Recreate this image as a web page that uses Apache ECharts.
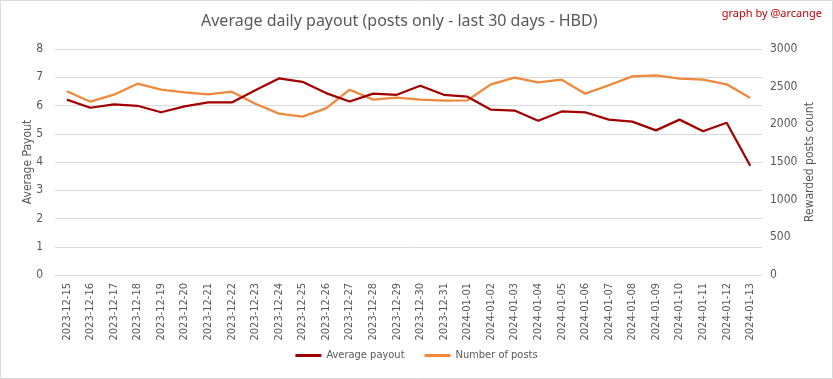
<!DOCTYPE html>
<html><head><meta charset="utf-8">
<script src="https://cdn.jsdelivr.net/npm/echarts@6/dist/echarts.min.js"></script>
<style>html,body{margin:0;padding:0;background:#fff}#c{width:833px;height:379px}</style>
</head><body><div id="c"></div>
<script>
const categories = ["2023-12-15","2023-12-16","2023-12-17","2023-12-18","2023-12-19","2023-12-20","2023-12-21","2023-12-22","2023-12-23","2023-12-24","2023-12-25","2023-12-26","2023-12-27","2023-12-28","2023-12-29","2023-12-30","2023-12-31","2024-01-01","2024-01-02","2024-01-03","2024-01-04","2024-01-05","2024-01-06","2024-01-07","2024-01-08","2024-01-09","2024-01-10","2024-01-11","2024-01-12","2024-01-13"];
const averagePayout = [6.21,5.92,6.04,5.99,5.76,5.97,6.11,6.11,6.54,6.96,6.84,6.44,6.14,6.42,6.38,6.70,6.38,6.31,5.85,5.82,5.46,5.79,5.76,5.50,5.43,5.12,5.50,5.09,5.39,3.87];
const numberOfPosts = [2438,2301,2394,2540,2460,2425,2398,2434,2274,2142,2102,2212,2460,2328,2354,2328,2314,2319,2531,2620,2558,2593,2407,2518,2637,2651,2606,2593,2531,2350];
const leftTicks = {min:0, max:8, interval:1};
const rightTicks = {min:0, max:3000, interval:500};

const chart = echarts.init(document.getElementById('c'));
const txt = '#595959';
const narrow = '"DejaVu Sans Condensed", "Noto Sans", sans-serif';
chart.setOption({
  animation:false,
  textStyle:{fontFamily:narrow},
  title:{text:'Average daily payout (posts only - last 30 days - HBD)', left:196, top:8,
    textStyle:{fontFamily:'Noto Sans', fontSize:16, fontWeight:'normal', color:txt}},
  graphic:[
    {type:'rect', shape:{x:0.5,y:0.5,width:832,height:378}, style:{fill:'none', stroke:'#d9d9d9', lineWidth:1}, silent:true},
    {type:'text', right:11, top:8, style:{text:'graph by @arcange', fill:'#c00000', font:'11px "Noto Sans"'}}
  ],
  legend:{bottom:13, left:'center', itemWidth:26, itemHeight:3, itemGap:20, icon:'rect',
    textStyle:{color:txt, fontSize:11, fontFamily:narrow},
    data:['Average payout','Number of posts']},
  grid:{left:55, right:71, top:49, bottom:104},
  xAxis:{type:'category', data:categories, boundaryGap:true,
    axisLine:{lineStyle:{color:'#d9d9d9'}}, axisTick:{show:false},
    axisLabel:{rotate:90, color:txt, fontSize:11, interval:0, margin:8, fontFamily:narrow}},
  yAxis:[
    {type:'value', min:leftTicks.min, max:leftTicks.max, interval:leftTicks.interval, name:'Average Payout', nameLocation:'middle', nameGap:21, nameMoveOverlap:false, nameTextStyle:{color:txt, fontSize:12, fontFamily:narrow},
     axisLabel:{color:txt, fontSize:12, margin:12, fontFamily:narrow}, axisLine:{show:false}, axisTick:{show:false}, splitLine:{lineStyle:{color:'#d9d9d9'}}},
    {type:'value', min:rightTicks.min, max:rightTicks.max, interval:rightTicks.interval, name:'Rewarded posts count', nameLocation:'middle', nameGap:42, nameMoveOverlap:false, nameRotate:90, nameTextStyle:{color:txt, fontSize:12, fontFamily:narrow},
     axisLabel:{color:txt, fontSize:12, margin:8, fontFamily:narrow, formatter:function(v){return String(v);}}, axisLine:{show:false}, axisTick:{show:false}, splitLine:{show:false}}
  ],
  series:[
    {name:'Average payout', type:'line', yAxisIndex:0, data:averagePayout, showSymbol:false, symbol:'none', lineStyle:{width:2.25, color:'#a00000'}, itemStyle:{color:'#a00000'}},
    {name:'Number of posts', type:'line', yAxisIndex:1, data:numberOfPosts, showSymbol:false, symbol:'none', lineStyle:{width:2.25, color:'#f0883c'}, itemStyle:{color:'#f0883c'}, z:1}
  ]
});
</script></body></html>
